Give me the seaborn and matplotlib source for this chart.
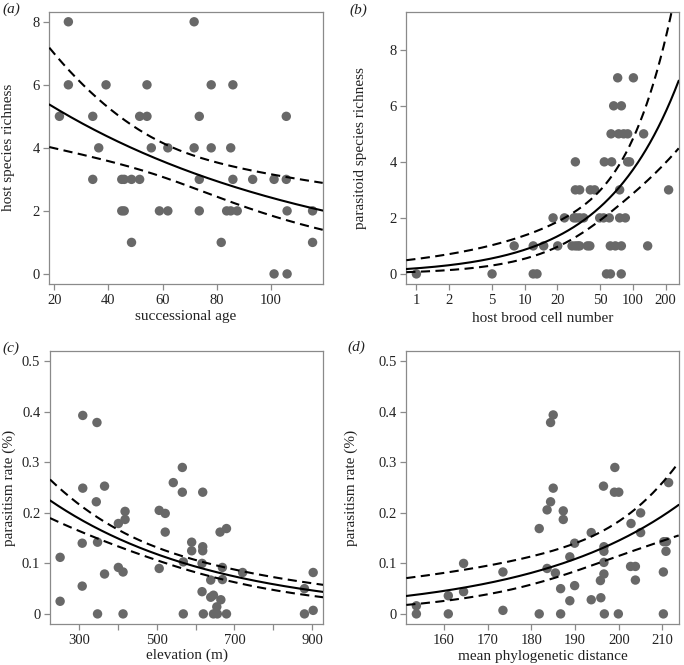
import numpy as np
import pandas as pd
import matplotlib
matplotlib.use("Agg")
import matplotlib.pyplot as plt
import seaborn as sns

# ---------------- data ----------------
# (a) host species richness vs successional age
age = [21.9, 25.2, 25.2, 34.2, 34.2, 36.4, 39.1, 44.9, 44.9, 45.8, 45.8, 48.5, 48.5,
       51.5, 51.5, 54.2, 54.2, 55.8, 58.8, 61.9, 61.9, 71.6, 71.6, 73.5, 73.5, 73.5,
       77.9, 77.9, 81.6, 83.6, 85.1, 85.1, 85.9, 85.9, 87.5, 93.2, 101.1, 101.1,
       105.6, 105.6, 105.9, 105.9, 115.3, 115.3]
host_richness = [5, 8, 6, 5, 3, 4, 6, 3, 2, 2, 3, 3, 1,
                 5, 3, 6, 5, 4, 2, 4, 2, 8, 4, 5, 3, 2,
                 6, 4, 1, 2, 4, 2, 6, 3, 2, 3, 3, 0,
                 5, 3, 2, 0, 2, 1]

# (b) parasitoid species richness vs host brood cell number
brood_cells = [1, 5, 12, 13, 57, 62, 78,
               8, 12, 15, 20.2, 27.4, 29.4, 31, 32.2, 38, 40, 61.8, 68.8, 78.2, 136.8,
               18.3, 23.3, 28.5, 30, 32.2, 35.1, 49.3, 53.6, 60.5, 75.4, 85.1,
               29.4, 32.2, 40.4, 44.3, 75.4, 213.6,
               29.4, 54.4, 63.6, 89.4, 93.2,
               62.8, 73.8, 82.1, 89.4, 125.6,
               66.4, 78.2,
               72.3, 101]
parasitoid_richness = [0, 0, 0, 0, 0, 0, 0,
                       1, 1, 1, 1, 1, 1, 1, 1, 1, 1, 1, 1, 1, 1,
                       2, 2, 2, 2, 2, 2, 2, 2, 2, 2, 2,
                       3, 3, 3, 3, 3, 3,
                       4, 4, 4, 4, 4,
                       5, 5, 5, 5, 5,
                       6, 6,
                       7, 7]

# (c) parasitism rate vs elevation
elevation = [251.8, 251.8, 310, 310, 308.6, 308.6, 346.5, 344.8, 348, 348, 366, 366,
             401.5, 401.5, 413.6, 413.6, 418.8, 418.8, 506.5, 506.5, 522, 522, 542.7,
             566, 566, 568.5, 568.5, 590, 590, 618.4, 618.4, 618.4, 616.7, 616.7, 620,
             639, 639, 646, 646, 654.6, 656, 663, 665, 669, 669, 679.5, 679.5, 721,
             880, 880, 902.4, 902.4]
rate_elev = [0.112, 0.025, 0.393, 0.249, 0.140, 0.055, 0.379, 0.222, 0.142, 0, 0.253, 0.079,
             0.179, 0.092, 0.083, 0, 0.203, 0.187, 0.205, 0.090, 0.199, 0.162, 0.260,
             0.29, 0.241, 0.103, 0, 0.142, 0.125, 0.241, 0.133, 0.125, 0.100, 0.044, 0,
             0.067, 0.033, 0.037, 0, 0.014, 0, 0.162, 0.028, 0.092, 0.068, 0.169, 0, 0.082,
             0.050, 0, 0.082, 0.007]

# (d) parasitism rate vs mean phylogenetic distance
mpd = [153.7, 153.7, 161.0, 161.0, 164.5, 164.5, 173.5, 173.5,
       185.0, 184.4, 199.1, 196.5, 199.0, 200.0, 211.4,
       185.0, 184.4, 183.6, 187.3, 187.3, 181.8, 193.7,
       205.0, 202.8, 205.0, 189.9, 196.6, 196.6,
       210.3, 210.9, 210.8, 188.8, 183.6, 196.6,
       185.5, 202.7, 203.8, 196.6, 210.2, 203.8,
       195.8, 189.9, 186.7, 188.8, 193.7, 195.9,
       181.8, 186.7, 196.7, 199.9, 210.2]
rate_mpd = [0.016, 0, 0.036, 0, 0.100, 0.044, 0.083, 0.007,
            0.394, 0.379, 0.29, 0.253, 0.241, 0.241, 0.26,
            0.249, 0.222, 0.206, 0.204, 0.187, 0.169, 0.161,
            0.200, 0.179, 0.161, 0.140, 0.133, 0.124,
            0.143, 0.143, 0.124, 0.113, 0.090, 0.102,
            0.081, 0.094, 0.094, 0.079, 0.083, 0.067,
            0.066, 0.056, 0.050, 0.026, 0.028, 0.032,
            0, 0, 0, 0, 0]

# fitted log-link models (intercept, slope) and CI half-width (centre, min, growth)
fit_a = (1.859, -0.00975);  ci_a = (61.4, 0.15, 0.00572)
fit_b = (-1.609, 0.6346);   ci_b = (4.02, 0.22, 0.2376)     # predictor = ln(cells)
fit_c = (-0.965, -0.002337); ci_c = (464.0, 0.105, 0.000557)
fit_d = (-7.724, 0.02897);  ci_d = (197.2, 0.23, 0.01423)

# ---------------- style ----------------
sns.set_style("white")
plt.rcParams['font.family'] = ['Liberation Serif', 'DejaVu Serif']
POINT = "#686868"
FRAME = "#8a8a8a"
TEXT = "#222222"
FS = 10.5

W, H = 684, 665
fig = plt.figure(figsize=(W / 100, H / 100), dpi=100)


def add_axes(l, t, r, b):
    return fig.add_axes([l / W, 1 - b / H, (r - l) / W, (b - t) / H])


def r_range(lo, hi):
    d = (hi - lo) * 0.04
    return lo - d, hi + d


def draw(ax, x, y, fit, ci, logx, ylim, xticks, xticklabels, yticks, yticklabels,
         xlabel, ylabel, ylab_x, xlab_y):
    df = pd.DataFrame({"x": x, "y": y})
    if logx:
        lo, hi = r_range(np.log10(min(x)), np.log10(max(x)))
        xl = (10 ** lo, 10 ** hi)
        ax.set_xscale("log")
        xs = np.logspace(lo, hi, 400)
        u = np.log(xs)
    else:
        xl = r_range(min(x), max(x))
        xs = np.linspace(xl[0], xl[1], 400)
        u = xs
    eta = fit[0] + fit[1] * u
    w = np.sqrt(ci[1] ** 2 + ci[2] ** 2 * (u - ci[0]) ** 2)
    curves = pd.DataFrame({"x": xs, "fit": np.exp(eta),
                           "upper": np.exp(eta + w), "lower": np.exp(eta - w)})

    sns.scatterplot(data=df, x="x", y="y", ax=ax, color=POINT, s=46,
                    edgecolor="none", linewidth=0, zorder=2)
    sns.lineplot(data=curves, x="x", y="fit", ax=ax, color="black", lw=1.5, zorder=3)
    for col in ("upper", "lower"):
        sns.lineplot(data=curves, x="x", y=col, ax=ax, color="black", lw=1.5, zorder=3)
        ax.lines[-1].set_dashes([4.4, 2.6])

    ax.set_xlim(*xl)
    ax.set_ylim(*r_range(*ylim))
    ax.set_xticks(xticks)
    ax.set_xticklabels(xticklabels)
    ax.minorticks_off()
    ax.set_yticks(yticks)
    ax.set_yticklabels(yticklabels)
    for s in ax.spines.values():
        s.set_visible(True)
        s.set_color(FRAME)
        s.set_linewidth(0.9)
    ax.tick_params(bottom=True, left=True, top=False, right=False,
                   direction="out", length=4.5, width=0.9, color=FRAME,
                   labelsize=FS, labelcolor=TEXT, pad=2.5)
    ax.set_xlabel(xlabel, fontsize=FS + 0.5, color=TEXT)
    ax.set_ylabel(ylabel, fontsize=FS + 0.5, color=TEXT)
    ax.yaxis.label.set_va("center")
    ax.xaxis.label.set_va("center")
    ax.yaxis.set_label_coords(ylab_x, 0.5)
    ax.xaxis.set_label_coords(0.5, xlab_y)
    ax.grid(False)


ax_a = add_axes(49.3, 11.7, 322.7, 284)
draw(ax_a, age, host_richness, fit_a, ci_a, False, (0, 8),
     [20, 40, 60, 80, 100], ["20", "40", "60", "80", "100"],
     [0, 2, 4, 6, 8], ["0", "2", "4", "6", "8"],
     "successional age", "host species richness", -0.150, -0.120)

ax_b = add_axes(406.3, 11.7, 678.7, 284)
draw(ax_b, brood_cells, parasitoid_richness, fit_b, ci_b, True, (0, 9),
     [1, 2, 5, 10, 20, 50, 100, 200], ["1", "2", "5", "10", "20", "50", "100", "200"],
     [0, 2, 4, 6, 8], ["0", "2", "4", "6", "8"],
     "host brood cell number", "parasitoid species richness", -0.169, -0.126)

rate_ticks = [0, 0.1, 0.2, 0.3, 0.4, 0.5]
rate_labels = ["0", "0.1", "0.2", "0.3", "0.4", "0.5"]

ax_c = add_axes(50, 351.3, 323.3, 624)
draw(ax_c, elevation, rate_elev, fit_c, ci_c, False, (0, 0.5),
     [300, 400, 500, 600, 700, 800, 900], ["300", "", "500", "", "700", "", "900"],
     rate_ticks, rate_labels,
     "elevation (m)", "parasitism rate (%)", -0.149, -0.113)

ax_d = add_axes(406.3, 351.3, 678.7, 624)
draw(ax_d, mpd, rate_mpd, fit_d, ci_d, False, (0, 0.5),
     [160, 170, 180, 190, 200, 210], ["160", "170", "180", "190", "200", "210"],
     rate_ticks, rate_labels,
     "mean phylogenetic distance", "parasitism rate (%)", -0.202, -0.121)

for lab, px, py in [("(a)", 2, 9), ("(b)", 349, 10), ("(c)", 2, 348.5), ("(d)", 347, 347)]:
    fig.text(px / W, 1 - py / H, lab, fontsize=FS + 0.5, style="italic",
             color=TEXT, ha="left", va="center")

fig.savefig("out.png", dpi=100)
